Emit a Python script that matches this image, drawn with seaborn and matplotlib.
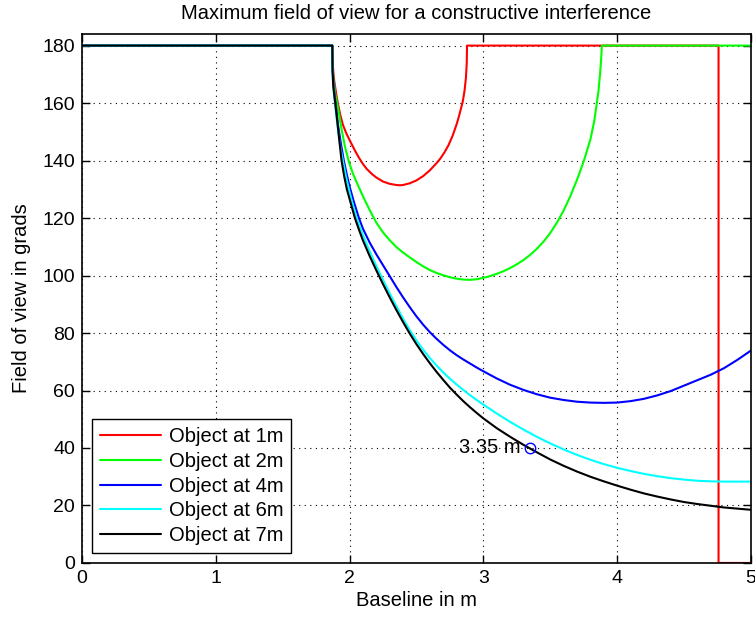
import matplotlib
matplotlib.use("Agg")
import numpy as np
import pandas as pd
import seaborn as sns
from matplotlib import pyplot as plt

# values
x_1m = [0, 1.871, 1.873, 1.878, 1.886, 1.896, 1.91, 1.93, 1.95, 1.975, 2.007, 2.04, 2.07,
        2.1, 2.13, 2.17, 2.2, 2.25, 2.3, 2.35, 2.376, 2.4, 2.45, 2.5, 2.55, 2.6, 2.65,
        2.68, 2.71, 2.74, 2.77, 2.8, 2.82, 2.846, 2.86, 2.87, 2.876, 2.878,
        4.758, 4.758, 5.0]
y_1m = [180, 180, 175, 171, 167.5, 164.5, 160.5, 156, 152.5, 149.5, 146.5, 143.5, 141.0,
        138.8, 137.0, 135.2, 134.1, 132.7, 131.9, 131.5, 131.4, 131.5, 132.1, 133.1, 134.6,
        136.6, 139.1, 140.8, 142.9, 145.4, 148.6, 152.6, 155.8, 160.5, 164.5, 169, 174, 180,
        180, 0, 0]

x_2m = [0, 1.871, 1.873, 1.878, 1.89, 1.913, 1.94, 1.965, 1.995, 2.025, 2.057, 2.1, 2.15,
        2.2, 2.25, 2.3, 2.35, 2.4, 2.45, 2.5, 2.55, 2.6, 2.65, 2.7, 2.75, 2.8, 2.85, 2.9,
        2.95, 3.0, 3.05, 3.1, 3.15, 3.2, 3.25, 3.3, 3.35, 3.4, 3.45, 3.5, 3.55, 3.6, 3.65,
        3.7, 3.75, 3.8, 3.83, 3.848, 3.86, 3.872, 3.88, 3.886, 5.0]
y_2m = [180, 180, 174, 169, 164, 158.5, 151, 145, 139.5, 135.5, 132, 127.6, 122.8,
        118.4, 115.0, 112.3, 109.9, 108.0, 106.3, 104.7, 103.2, 101.9, 100.9, 100.1, 99.4,
        98.9, 98.6, 98.5, 98.7, 99.2, 99.8, 100.6, 101.5, 102.6, 103.9, 105.4, 107.2, 109.3,
        111.8, 114.8, 118.4, 122.6, 127.6, 133.3, 139.7, 147.3, 154, 160, 164, 170, 175,
        180, 180]

x_4m = [0, 1.871, 1.873, 1.878, 1.885, 1.9, 1.915, 1.935, 1.957, 1.98, 2.0, 2.03, 2.07,
        2.1, 2.15, 2.2, 2.25, 2.3, 2.35, 2.4, 2.45, 2.5, 2.55, 2.6, 2.65, 2.7, 2.75, 2.8,
        2.85, 2.9, 2.95, 3.0, 3.1, 3.2, 3.3, 3.4, 3.5, 3.6, 3.7, 3.8, 3.9, 4.0, 4.1, 4.2,
        4.3, 4.4, 4.5, 4.6, 4.7, 4.8, 4.9, 5.0]
y_4m = [180, 180, 172, 168, 164, 158, 152, 146, 140, 135, 131, 126, 120,
        116.3, 111.5, 107.4, 103.6, 99.8, 96.0, 92.4, 89.0, 85.8, 82.9, 80.3, 78.0, 75.9,
        74.0, 72.3, 70.8, 69.4, 68.0, 66.7, 64.2, 62.0, 60.2, 58.7, 57.5, 56.7, 56.1, 55.8,
        55.7, 55.8, 56.3, 57.1, 58.3, 59.8, 61.7, 63.6, 65.5, 67.8, 70.7, 73.9]

x_6m = [0, 1.871, 1.873, 1.878, 1.885, 1.895, 1.91, 1.93, 1.95, 1.975, 2.0, 2.025, 2.052,
        2.1, 2.15, 2.2, 2.25, 2.3, 2.35, 2.4, 2.45, 2.5, 2.55, 2.6, 2.65, 2.7, 2.75, 2.8,
        2.85, 2.9, 2.95, 3.0, 3.1, 3.2, 3.3, 3.4, 3.5, 3.6, 3.7, 3.8, 3.9, 4.0, 4.1, 4.2,
        4.3, 4.4, 4.5, 4.6, 4.7, 4.8, 4.9, 5.0]
y_6m = [180, 180, 171, 166, 162.5, 158, 152, 145, 140, 134, 129, 124.5, 120,
        114, 108.5, 103.3, 98.5, 93.8, 89.3, 85, 81.0, 77.4, 74.2, 71.3, 68.7, 66.3, 64.1,
        62.1, 60.2, 58.4, 56.7, 55.1, 52.0, 49.1, 46.4, 43.9, 41.6, 39.5, 37.6, 35.9, 34.4,
        33.1, 32.0, 31.0, 30.2, 29.5, 29.0, 28.6, 28.4, 28.3, 28.3, 28.3]

x_7m = [0, 1.871, 1.873, 1.878, 1.885, 1.893, 1.905, 1.92, 1.94, 1.96, 1.98, 2.01, 2.04,
        2.07, 2.1, 2.15, 2.2, 2.25, 2.3, 2.35, 2.4, 2.45, 2.5, 2.55, 2.6, 2.65, 2.7, 2.75,
        2.8, 2.85, 2.9, 2.95, 3.0, 3.1, 3.2, 3.3, 3.4, 3.5, 3.6, 3.7, 3.8, 3.9, 4.0, 4.1,
        4.2, 4.3, 4.4, 4.5, 4.6, 4.7, 4.8, 4.9, 5.0]
y_7m = [180, 180, 171, 166, 163, 160, 155, 148.5, 140, 134.5, 130, 125, 120,
        116, 112.2, 106.8, 101.8, 97.0, 92.4, 88.0, 83.8, 79.8, 76.1, 72.7, 69.5, 66.5, 63.7,
        61.0, 58.6, 56.3, 54.2, 52.2, 50.3, 46.9, 43.9, 41.1, 38.5, 36.0, 33.8, 31.8, 30.0,
        28.4, 26.9, 25.5, 24.2, 23.1, 22.1, 21.2, 20.5, 19.9, 19.3, 18.9, 18.5]

labels = ["Object at 1m", "Object at 2m", "Object at 4m", "Object at 6m", "Object at 7m"]
colors = ["#ff0000", "#00ff00", "#0000ff", "#00ffff", "#000000"]

mark_x = [3.35]
mark_y = [40]
mark_text = "3.35 m"

x_ticks = [0, 1, 2, 3, 4, 5]
y_ticks = [0, 20, 40, 60, 80, 100, 120, 140, 160, 180]

frames = []
for lab, xs, ys in zip(labels, [x_1m, x_2m, x_4m, x_6m, x_7m],
                       [y_1m, y_2m, y_4m, y_6m, y_7m]):
    frames.append(pd.DataFrame({"x": xs, "y": ys, "series": lab}))
df = pd.concat(frames, ignore_index=True)

sns.set_style("ticks")
plt.rcParams["font.family"] = ["Liberation Sans", "DejaVu Sans"]
plt.rcParams.update({"text.color": "black", "axes.labelcolor": "black",
                     "xtick.color": "black", "ytick.color": "black"})

fig = plt.figure(figsize=(7.55, 6.2), dpi=100)
ax = fig.add_axes([0.1086, 0.092, 0.886, 0.853])

sns.lineplot(data=df, x="x", y="y", hue="series", hue_order=labels,
             palette=dict(zip(labels, colors)), sort=False, estimator=None,
             linewidth=1.5, ax=ax)

ax.plot(mark_x, mark_y, "o", mfc="none", mec="#0000ff", ms=7.5, mew=1)
ax.text(mark_x[0] - 0.07, mark_y[0], mark_text, ha="right", va="center", fontsize=14.5)

ax.set_xlim(0, 5)
ax.set_ylim(0, 184)
ax.set_xticks(x_ticks)
ax.set_yticks(y_ticks)
ax.grid(True, linestyle=(0, (1, 4)), color="black", linewidth=0.8)
ax.tick_params(direction="in", top=True, right=True, length=6, width=1,
               labelsize=14, pad=5)
for s in ax.spines.values():
    s.set_color("black")
    s.set_linewidth(1.2)

ax.set_title("Maximum field of view for a constructive interference", fontsize=14.5, pad=11)
ax.set_xlabel("Baseline in m", fontsize=14.5, labelpad=3)
ax.set_ylabel("Field of view in grads", fontsize=14.5, labelpad=8)

leg = ax.legend(loc="lower left", bbox_to_anchor=(0.0, 0.0), fontsize=14.5,
                handlelength=3.0, labelspacing=0.28, fancybox=False, framealpha=1,
                edgecolor="black", borderpad=0.4, handletextpad=0.4)
leg.get_frame().set_linewidth(1)

fig.savefig("out.png", dpi=100)
